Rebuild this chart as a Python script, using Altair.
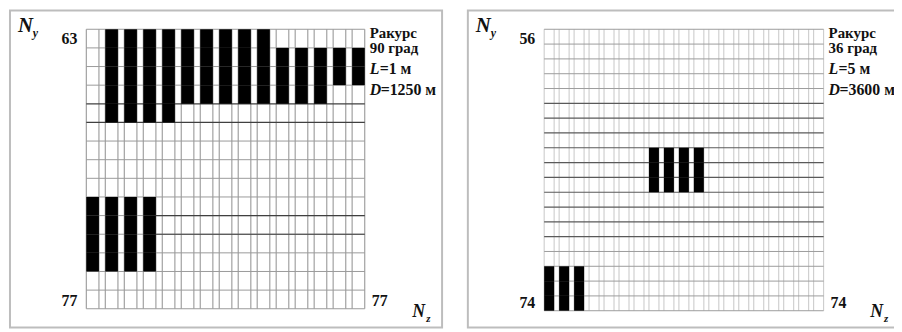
import altair as alt
import pandas as pd

FONT = "Liberation Serif, Times New Roman, serif"

# ---------------- left panel (aspect 90 deg) ----------------
left_ny = list(range(63, 78))          # rows, top -> bottom
left_nz = list(range(63, 78))          # columns, left -> right
left_fill_nz_from = [64, 64, 73, 76, 63]
left_fill_nz_to   = [72, 67, 75, 77, 66]
left_fill_ny_from = [63, 67, 64, 64, 72]
left_fill_ny_to   = [66, 67, 66, 65, 75]
left_dark_rows = [67, 68]              # rows whose top border is drawn dark
left_dark_part_rows = [73, 74]         # dark border right of the lower block
left_dark_part_from = 66               # after column nz=66
left_info = ["Ракурс", "90 град", "L", "=1 м", "D", "=1250 м"]

# ---------------- right panel (aspect 36 deg) ----------------
right_ny = list(range(56, 75))
right_nz = list(range(56, 75))
right_fill_nz_from = [63, 56]
right_fill_nz_to   = [66, 58]
right_fill_ny_from = [64, 72]
right_fill_ny_to   = [66, 74]
right_dark_rows = list(range(61, 71))
right_dark_part_rows = []
right_dark_part_from = 56
right_info = ["Ракурс", "36 град", "L", "=5 м", "D", "=3600 м"]

W, H = 894, 324
BAR = 2 / 3


def make_panel(ny, nz, nzf, nzt, nyf, nyt, dark_rows, dark_part_rows, dark_part_from,
               info, xr, yr, ox, vcol, hcol, hdark):
    ncol, nrow = len(nz), len(ny)
    xext = ncol - (1 - BAR)
    xs = alt.Scale(domain=[0, xext], range=xr, nice=False, zero=False)
    ys = alt.Scale(domain=[0, nrow], range=yr, nice=False, zero=False)

    cells = []
    for a, b, c, d in zip(nzf, nzt, nyf, nyt):
        for z in range(a, b + 1):
            for y in range(c, d + 1):
                col, row = nz.index(z), ny.index(y)
                cells.append({"nz": z, "ny": y, "x0": col, "x1": col + BAR,
                              "y0": row, "y1": row + 1})
    cells = pd.DataFrame(cells)

    vlines = pd.DataFrame(
        [{"x": i + off, "y0": 0, "y1": nrow} for i in range(ncol) for off in (0, BAR)]
    )
    hl, hd = [], []
    for k in range(nrow + 1):
        rowv = ny[k] if k < nrow else None
        if rowv in dark_rows:
            hd.append({"y": k, "x0": 0, "x1": xext})
        else:
            hl.append({"y": k, "x0": 0, "x1": xext})
            if rowv in dark_part_rows:
                hd.append({"y": k, "x0": nz.index(dark_part_from) + BAR, "x1": xext})
    hl = pd.DataFrame(hl)
    hd = pd.DataFrame(hd) if hd else pd.DataFrame({"y": [], "x0": [], "x1": []})

    frame = alt.Chart(pd.DataFrame({"a": [0]})).mark_rect(
        fill="white", stroke="#bdbdbd", strokeWidth=2
    ).encode(x=alt.value(ox), x2=alt.value(ox + 436 if ox < 100 else ox + 450),
             y=alt.value(1), y2=alt.value(321))

    vrule = alt.Chart(vlines).mark_rule(color=vcol, strokeWidth=1).encode(
        x=alt.X("x:Q", scale=xs, axis=None),
        y=alt.Y("y0:Q", scale=ys, axis=None), y2="y1:Q")
    hrule = alt.Chart(hl).mark_rule(color=hcol, strokeWidth=1).encode(
        y=alt.Y("y:Q", scale=ys, axis=None),
        x=alt.X("x0:Q", scale=xs, axis=None), x2="x1:Q")
    hdrule = alt.Chart(hd).mark_rule(color=hdark, strokeWidth=1.2).encode(
        y=alt.Y("y:Q", scale=ys, axis=None),
        x=alt.X("x0:Q", scale=xs, axis=None), x2="x1:Q")
    bars = alt.Chart(cells).mark_rect(color="black").encode(
        x=alt.X("x0:Q", scale=xs, axis=None), x2="x1:Q",
        y=alt.Y("y0:Q", scale=ys, axis=None), y2="y1:Q")

    ticks_top = pd.DataFrame({"x": [0], "y": [0], "t": [str(ny[0])]})
    ticks_bl = pd.DataFrame({"x": [0], "y": [nrow], "t": [str(ny[-1])]})
    ticks_br = pd.DataFrame({"x": [xext], "y": [nrow], "t": [str(nz[-1])]})
    tstyle = dict(font=FONT, fontSize=16, fontWeight="bold", color="#111")
    t1 = alt.Chart(ticks_top).mark_text(align="right", baseline="top", dx=-9, dy=2, **tstyle).encode(
        x=alt.X("x:Q", scale=xs, axis=None), y=alt.Y("y:Q", scale=ys, axis=None), text="t:N")
    t2 = alt.Chart(ticks_bl).mark_text(align="right", baseline="bottom", dx=-9, dy=0, **tstyle).encode(
        x=alt.X("x:Q", scale=xs, axis=None), y=alt.Y("y:Q", scale=ys, axis=None), text="t:N")
    t3 = alt.Chart(ticks_br).mark_text(align="left", baseline="bottom", dx=7, dy=0, **tstyle).encode(
        x=alt.X("x:Q", scale=xs, axis=None), y=alt.Y("y:Q", scale=ys, axis=None), text="t:N")

    one = pd.DataFrame({"a": [0]})

    def txt(s, x, y, size=15, italic=False, color="#111"):
        return alt.Chart(one).mark_text(
            text=s, align="left", baseline="alphabetic", font=FONT, fontSize=size,
            fontWeight="bold", fontStyle="italic" if italic else "normal", color=color
        ).encode(x=alt.value(x), y=alt.value(y))

    ax = xr[1] + 5
    labels = [
        txt(info[0], ax, 29), txt(info[1], ax, 44),
        txt(info[2], ax, 65, size=16, italic=True), txt(info[3], ax + 10, 65, size=16),
        txt(info[4], ax, 86, size=16, italic=True), txt(info[5], ax + 11, 86, size=16),
        txt("N", ox + 8, 23, size=21, italic=True), txt("y", ox + 23, 28, size=12, italic=True),
        txt("N", ox + 406, 310, size=18, italic=True), txt("z", ox + 420, 315, size=11, italic=True),
    ]
    return alt.layer(frame, vrule, hrule, hdrule, bars, t1, t2, t3, *labels)


left = make_panel(left_ny, left_nz, left_fill_nz_from, left_fill_nz_to,
                  left_fill_ny_from, left_fill_ny_to, left_dark_rows,
                  left_dark_part_rows, left_dark_part_from, left_info,
                  xr=[79, 360], yr=[20, 302], ox=2,
                  vcol="#8e8e8e", hcol="#9a9a9a", hdark="#404040")
right = make_panel(right_ny, right_nz, right_fill_nz_from, right_fill_nz_to,
                   right_fill_ny_from, right_fill_ny_to, right_dark_rows,
                   right_dark_part_rows, right_dark_part_from, right_info,
                   xr=[541, 823], yr=[20, 304], ox=464,
                   vcol="#c6c6c6", hcol="#9c9c9c", hdark="#5a5a5a")

chart = alt.layer(left, right).resolve_scale(
    x="independent", y="independent"
).properties(
    width=W, height=H, padding=0, autosize=alt.AutoSizeParams(type="none"),
    background="white"
).configure_view(stroke=None)

chart.save("out.html", embed_options={"renderer": "svg", "actions": False})
